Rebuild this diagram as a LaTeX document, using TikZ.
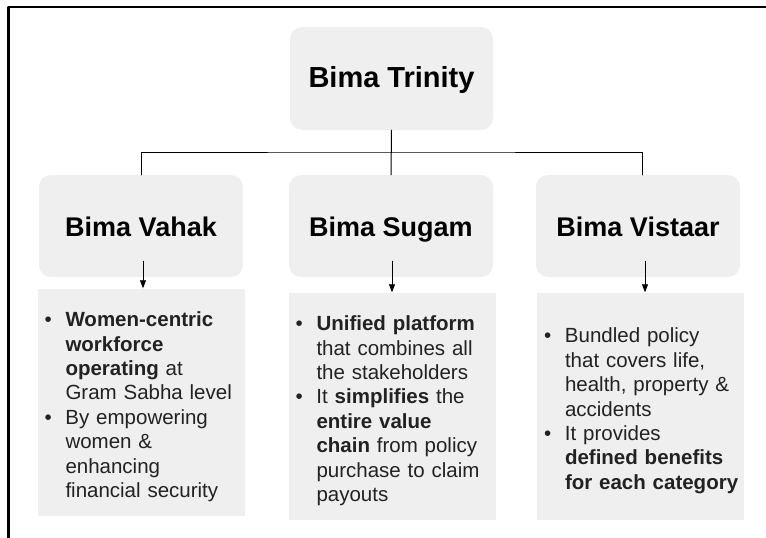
\documentclass[tikz,border=0pt]{standalone}
\usepackage{fontspec}
\setmainfont{Liberation Sans}
\usetikzlibrary{positioning,arrows.meta}

\definecolor{boxgray}{RGB}{239,239,239}
\definecolor{inkgray}{RGB}{34,34,34}
\newcommand{\bpoint}{\par\noindent\llap{\makebox[21pt][l]{\textbullet}}}

\begin{document}
\begin{tikzpicture}[x=1pt, y=-1pt, line cap=round, line join=round,
    head/.style={fill=boxgray, rounded corners=12pt, minimum width=204pt, minimum height=102pt,
      text height=24pt, text depth=4pt, font=\fontsize{27}{30}\selectfont\bfseries},
    points/.style={fill=boxgray, minimum height=227pt, text width=196pt, inner xsep=5.5pt,
      align=left, text=inkgray, font=\fontsize{20.5}{24.4}\selectfont},
    link/.style={line width=1pt},
    down/.style={line width=0.8pt, -{Triangle[length=8pt,width=6pt]}}]
        \useasboundingbox (0,0) rectangle (766,538);

        % frame
        \draw[line width=2.5pt, line cap=butt] (8.5,538) -- (8.5,7) -- (766,7);

        % top level
        \node[head, minimum width=203pt, minimum height=103pt, text height=25pt, text depth=8pt,
            font=\fontsize{29}{34}\selectfont\bfseries] (title) at (391.5,78.5) {Bima Trinity};

        % schemes
        \node[head] (vahak)   at (141,226)   {Bima Vahak};
        \node[head] (sugam)   at (391,226)   {Bima Sugam};
        \node[head] (vistaar) at (638,226)   {Bima Vistaar};

        % tree lines
        \coordinate (bus) at (391,152);
        \draw[link] (title.south) -- (sugam.north);
        \draw[link] (vahak.north) |- (bus) -| ([xshift=4pt]vistaar.north);

        % bullet boxes
        \node[points] (vahakpts) at (141,402) {\leftskip=22.5pt
            \bpoint\textbf{Women-centric}\newline \textbf{workforce}\newline \textbf{operating} at\newline Gram Sabha level
            \bpoint By empowering\newline women \&\newline enhancing\newline financial security\par};
        \node[points] (sugampts) at (392,406) {\leftskip=22.5pt
            \bpoint\textbf{Unified platform}\newline that combines all\newline the stakeholders
            \bpoint It \textbf{simplifies} the\newline \textbf{entire value}\newline \textbf{chain} from policy\newline purchase to claim\newline payouts\par};
        \node[points] (vistaarpts) at (640.5,406) {\leftskip=22.5pt
            \bpoint Bundled policy\newline that covers life,\newline health, property \&\newline accidents
            \bpoint It provides\newline \textbf{defined benefits}\newline \mbox{\textbf{for each category}}\par};

        % arrows
        \draw[down] ([xshift=2pt,yshift=16pt]vahak.south) -- ([xshift=2pt]vahakpts.north);
        \draw[down] ([xshift=1pt,yshift=16pt]sugam.south) -- (sugampts.north);
        \draw[down] ([xshift=7pt,yshift=16pt]vistaar.south) -- ([xshift=4.5pt]vistaarpts.north);
    \end{tikzpicture}
\end{document}
